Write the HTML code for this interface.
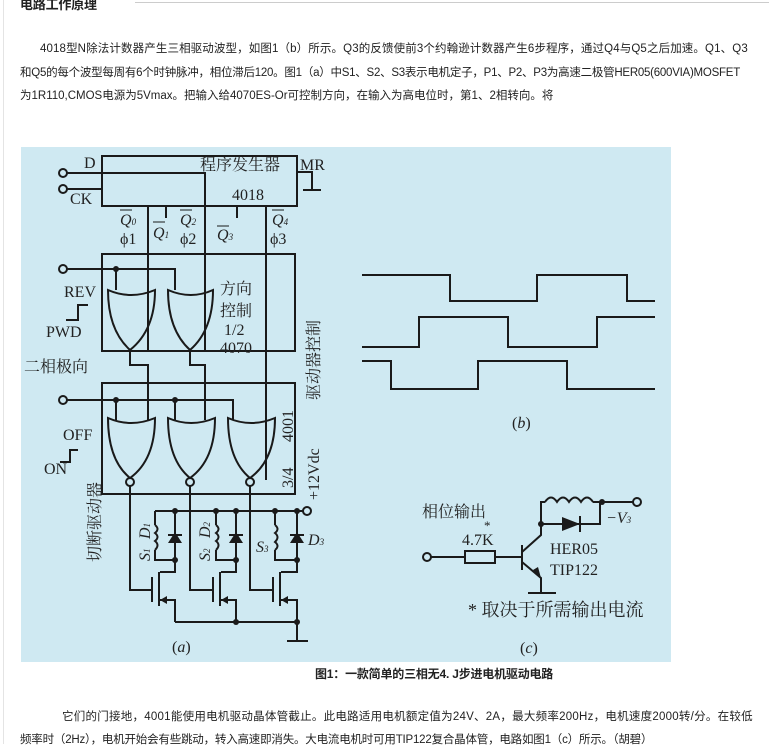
<!DOCTYPE html>
<html><head><meta charset="utf-8"><style>
body{margin:0;width:769px;height:744px;background:#fff;overflow:hidden;position:relative;font-family:"Liberation Sans","Noto Sans CJK SC",sans-serif;}
.t{position:absolute;font-size:11.5px;color:#222;white-space:nowrap;letter-spacing:-0.2px}
</style></head><body>
<div style="position:absolute;left:135px;top:2px;width:634px;height:1px;background:#ccc"></div>
<div style="position:absolute;left:3px;top:0;width:1px;height:744px;background:#e4e4e4"></div>
<div class="t" style="left:20px;top:-6px;font-weight:bold;font-size:13px">电路工作原理</div>
<div class="t" style="left:40px;top:40px;letter-spacing:0.12px">4018型N除法计数器产生三相驱动波型，如图1（b）所示。Q3的反馈使前3个约翰逊计数器产生6步程序，通过Q4与Q5之后加速。Q1、Q3</div>
<div class="t" style="left:20px;top:64px;letter-spacing:-0.25px">和Q5的每个波型每周有6个时钟脉冲，相位滞后120。图1（a）中S1、S2、S3表示电机定子，P1、P2、P3为高速二极管HER05(600VIA)MOSFET</div>
<div class="t" style="left:20px;top:87px;letter-spacing:0px">为1R110,CMOS电源为5Vmax。把输入给4070ES-Or可控制方向，在输入为高电位时，第1、2相转向。将</div>
<div class="t" style="left:315px;top:665px;font-weight:bold;font-size:12px">图1：一款简单的三相无4. J步进电机驱动电路</div>
<div class="t" style="left:62px;top:708px;letter-spacing:0.25px">它们的门接地，4001能使用电机驱动晶体管截止。此电路适用电机额定值为24V、2A，最大频率200Hz，电机速度2000转/分。在较低</div>
<div class="t" style="left:20px;top:731px">频率时（2Hz），电机开始会有些跳动，转入高速即消失。大电流电机时可用TIP122复合晶体管，电路如图1（c）所示。（胡碧）</div>
<svg width="769" height="744" style="position:absolute;left:0;top:0" font-family="Liberation Serif,Noto Serif CJK SC,serif" font-size="16" fill="#222">
<rect x="21" y="147" width="650" height="515" fill="#cfe9f2"/>
<g stroke="#1a1a1a" stroke-width="2" fill="none">
<rect x="102" y="156" width="195" height="50"/>
<path d="M66 173H205V350M66 189H102M297 172H312V190M303 190H321"/>
<path d="M148 206V352M166 206V218M237 206V218M266 206V480"/>
<rect x="102" y="254" width="193" height="97"/>
<path d="M66 269H175V290M116 269V290"/>
<path d="M108 290Q131 300 155 290Q155 330 130 350Q108 330 108 290Z"/>
<path d="M168 290Q191 300 213 290Q213 330 190 350Q168 330 168 290Z"/>
<path d="M130 350V365H148V420M190 350V365H205V420"/>
<rect x="102" y="383" width="193" height="111"/>
<path d="M66 400H233V420M116 400V420M175 400V420"/>
<path d="M108 418Q131 428 155 418Q155 460 130 478Q108 460 108 418Z"/>
<path d="M168 418Q191 428 215 418Q215 460 190 478Q168 460 168 418Z"/>
<path d="M228 418Q251 428 275 418Q275 460 250 478Q228 460 228 418Z"/>
<circle cx="130" cy="482" r="4"/><circle cx="190" cy="482" r="4"/><circle cx="250" cy="482" r="4"/>
<path d="M155 511H303"/>
<path d="M155 511V525M155 550V560H175M175 511V572H160M159 572V606M152 577V602M130 486V590H152M159 600H175V622"/>
<path d="M155 525q5 4 0 8q5 4 0 8q5 4 0 9"/>
<path d="M216 511V525M216 550V560H236M236 511V572H221M220 572V606M213 577V602M190 486V590H213M220 600H236V622"/>
<path d="M216 525q5 4 0 8q5 4 0 8q5 4 0 9"/>
<path d="M275 511V525M275 550V560H297M297 511V572H281M280 572V606M273 577V602M250 486V590H273M280 600H297V640M287 641H308M175 622H297"/>
<path d="M275 525q5 4 0 8q5 4 0 9q5 4 0 8"/>
<path d="M168 535H182M229 535H243M290 535H304"/>
<path d="M66 320H78V305H88"/>
<path d="M60 462H70V450H78"/>
<circle cx="63" cy="173" r="4" fill="#cfe9f2"/><circle cx="63" cy="189" r="4" fill="#cfe9f2"/>
<circle cx="63" cy="269" r="4" fill="#cfe9f2"/><circle cx="63" cy="400" r="4" fill="#cfe9f2"/>
<circle cx="307" cy="511" r="4" fill="#cfe9f2"/>
<path d="M362 275H450V301H537V275H627V301H655M362 347H419V317H508V347H597V317H655M362 361H391V389H478V361H567V389H655"/>
<path d="M431 557H465M495 557H522M522 545V570M522 552L541 535V502H545M545 502q6 -9 12 0q6 -9 12 0q6 -9 12 0q6 -9 12 0M593 502H633M541 524H600V502M522 562L541 578V593M528 593H556"/>
<rect x="465" y="551" width="30" height="12"/>
<circle cx="427" cy="557" r="4" fill="#cfe9f2"/><circle cx="637" cy="502" r="4" fill="#cfe9f2"/>
<path d="M580 516V532"/>
</g>
<g fill="#1a1a1a">
<path d="M168 543L175 532L182 543Z M229 543L236 532L243 543Z M290 543L297 532L304 543Z"/>
<path d="M562 517L580 524L562 531Z M541 578L533 570L538 567Z"/>
<path d="M160 600l7-4v8z M221 600l7-4v8z M281 600l7-4v8z"/>
<circle cx="116" cy="269" r="3"/><circle cx="116" cy="400" r="3"/><circle cx="175" cy="400" r="3"/>
<circle cx="175" cy="511" r="3"/><circle cx="216" cy="511" r="3"/><circle cx="236" cy="511" r="3"/><circle cx="275" cy="511" r="3"/><circle cx="297" cy="511" r="3"/>
<circle cx="175" cy="560" r="3"/><circle cx="236" cy="560" r="3"/><circle cx="297" cy="560" r="3"/>
<circle cx="236" cy="622" r="3"/><circle cx="297" cy="622" r="3"/>
<circle cx="541" cy="524" r="3"/><circle cx="602" cy="502" r="3"/>
</g>
<text x="84" y="168">D</text><text x="70" y="204">CK</text>
<text x="200" y="170">程序发生器</text><text x="300" y="170">MR</text><text x="232" y="200">4018</text>
<text x="120" y="225" font-style="italic">Q<tspan font-size="9">0</tspan></text><text x="120" y="244">ϕ1</text>
<text x="153" y="238" font-style="italic">Q<tspan font-size="9">1</tspan></text>
<text x="180" y="225" font-style="italic">Q<tspan font-size="9">2</tspan></text><text x="180" y="244">ϕ2</text>
<text x="217" y="240" font-style="italic">Q<tspan font-size="9">3</tspan></text>
<text x="272" y="225" font-style="italic">Q<tspan font-size="9">4</tspan></text><text x="270" y="244">ϕ3</text>
<path d="M120 210h12M153 222h12M180 210h12M217 226h12M272 210h12" stroke="#1a1a1a"/>
<text x="220" y="294">方向</text><text x="220" y="316">控制</text><text x="224" y="335">1/2</text><text x="220" y="353">4070</text>
<text x="64" y="297">REV</text><text x="46" y="337">PWD</text>
<text x="24" y="372">二相极向</text>
<text x="63" y="440">OFF</text><text x="44" y="474">ON</text>
<text transform="translate(293,442) rotate(-90)">4001</text>
<text transform="translate(293,488) rotate(-90)">3/4</text>
<text transform="translate(319,500) rotate(-90)">+12Vdc</text>
<text transform="translate(319,400) rotate(-90)">驱动器控制</text>
<text transform="translate(100,562) rotate(-90)">切断驱动器</text>
<text x="142" y="531" font-style="italic" transform="rotate(-90 150 531)">D<tspan font-size="9">1</tspan></text>
<text x="143" y="554" font-style="italic" transform="rotate(-90 150 554)">S<tspan font-size="9">1</tspan></text>
<text x="203" y="531" font-style="italic" transform="rotate(-90 210 531)">D<tspan font-size="9">2</tspan></text>
<text x="203" y="554" font-style="italic" transform="rotate(-90 210 554)">S<tspan font-size="9">2</tspan></text>
<text x="256" y="552" font-style="italic">S<tspan font-size="9">3</tspan></text>
<text x="308" y="545" font-style="italic">D<tspan font-size="9">3</tspan></text>
<text x="172" y="652">(<tspan font-style="italic">a</tspan>)</text>
<text x="512" y="428">(<tspan font-style="italic">b</tspan>)</text>
<text x="422" y="517">相位输出</text><text x="484" y="530" font-size="13">*</text>
<text x="462" y="545">4.7K</text>
<text x="550" y="554">HER05</text><text x="550" y="575">TIP122</text>
<text x="606" y="523" font-style="italic">−V<tspan font-size="9">3</tspan></text>
<text x="468" y="616" font-size="18">* 取决于所需输出电流</text>
<text x="520" y="653">(<tspan font-style="italic">c</tspan>)</text>
</svg>
</body></html>
